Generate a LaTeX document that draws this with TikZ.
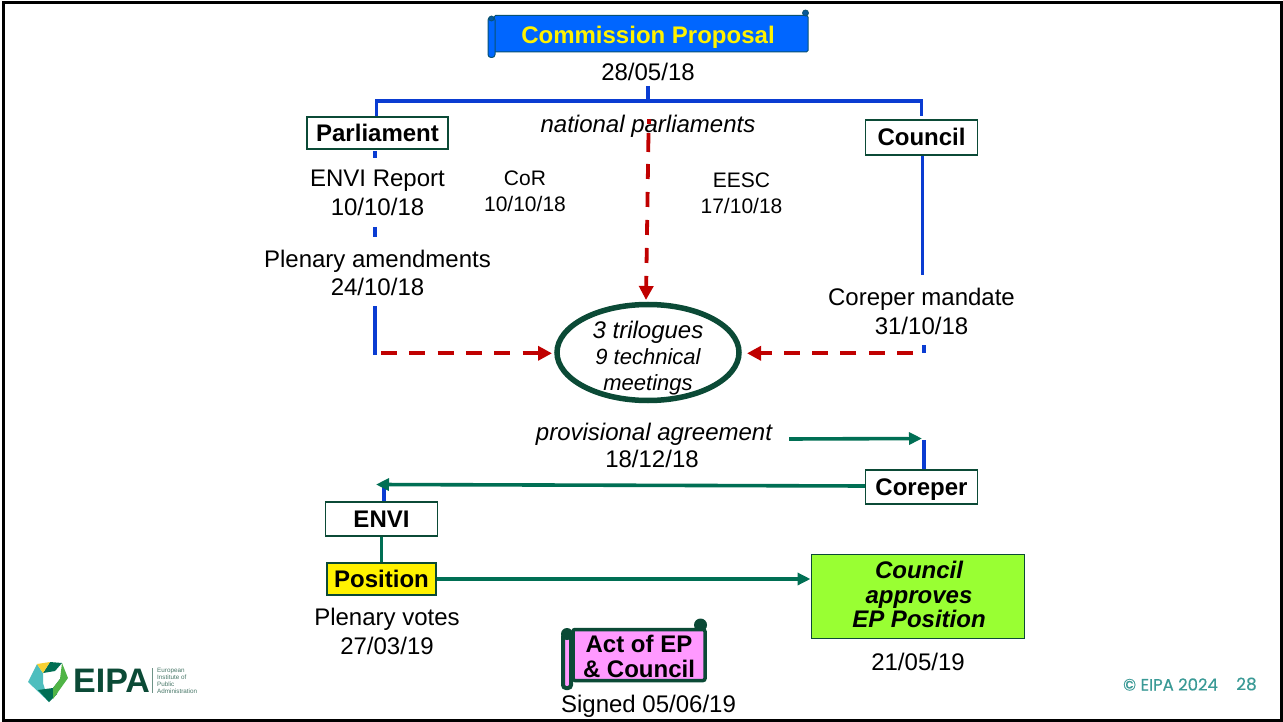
\documentclass[tikz,border=0pt]{standalone}
\usepackage{fontspec}
\setmainfont{Liberation Sans}
\newfontfamily\eipafont[FakeBold=0.35]{Poppins}
\usetikzlibrary{arrows.meta}
\definecolor{cBlue}{HTML}{0A3CD2}
\definecolor{cRed}{HTML}{C00000}
\definecolor{cGreen}{HTML}{006F54}
\definecolor{cDark}{HTML}{0B4A36}
\definecolor{cScroll}{HTML}{0066FF}
\definecolor{cTeal}{HTML}{3A9A96}
\definecolor{cPink}{HTML}{FF99FF}
\definecolor{cLime}{HTML}{99FF33}
\definecolor{cLogoA}{HTML}{4EBEBE}
\definecolor{cLogoB}{HTML}{F8D032}
\definecolor{cLogoC}{HTML}{50B446}
\newcommand{\fsz}[1]{\fontsize{#1}{#1}\selectfont}
\tikzset{
  x=1pt,y=-1pt,
  label24/.style={align=center,inner sep=0pt,font=\fsz{24},text=black},
  label21/.style={align=center,inner sep=0pt,font=\fsz{21},text=black},
  labelbox/.style={draw=cDark,line width=1.3pt,fill=white,inner sep=0pt,text height=17pt,text depth=0pt,font=\fsz{24}\bfseries,text=black},
  blueline/.style={draw=cBlue,line width=3.8pt},
  reddash/.style={draw=cRed,line width=3.8pt,dash pattern=on 16pt off 12.3pt,-{Triangle[length=14pt,width=14pt]}},
  greenarrow/.style={draw=cGreen,line width=3.6pt,-{Triangle[length=13pt,width=12pt]}},
  greenline/.style={draw=cGreen,line width=3.6pt},
}
\begin{document}
\begin{tikzpicture}
\useasboundingbox (0,0) rectangle (1283,722);
\fill[white] (0,0) rectangle (1283,722);
\draw[black,line width=3pt] (3.5,2.5) rectangle (1281.5,720.5);

% Named anchors for free connector ends
\coordinate (hL) at (376.5,101);
\coordinate (hM) at (648,101);
\coordinate (hR) at (921.5,101);
\coordinate (hRe) at (921.5,116);
\coordinate (mTop) at (648,86);
\coordinate (pA) at (375,151);
\coordinate (pB) at (375,158);
\coordinate (pC) at (375,227);
\coordinate (pD) at (375,237);
\coordinate (pE) at (375,306);
\coordinate (pF) at (375,355);
\coordinate (cB) at (922.5,275);
\coordinate (cC) at (924,345);
\coordinate (cD) at (924,353);
\coordinate (rT) at (648.7,119);
\coordinate (rTe) at (648.7,124);
\coordinate (rA) at (648.5,133);
\coordinate (rAe) at (646,300);
\coordinate (rL) at (381,353.3);
\coordinate (rLe) at (552,353.3);
\coordinate (rR) at (913,353.3);
\coordinate (rRe) at (747,353.3);
\coordinate (gA) at (789,439);
\coordinate (gB) at (922,438.5);
\coordinate (gC) at (924,440);
\coordinate (gE) at (376,484.5);
\coordinate (gF) at (384,485);

% Commission scroll
\fill[cScroll,draw=cDark!70!cScroll,line width=1pt,rounded corners=1.5pt] (494,15.5) -- (808,15.5) -- (808,52) -- (494,52) -- cycle;
\fill[cScroll,draw=cDark!70!cScroll,line width=1pt,rounded corners=3pt] (488,17) rectangle (495,57.5);
\fill[cDark!50!cScroll,draw=cDark!70!cScroll,line width=.8pt] (805.5,13) circle (3pt);
\fill[cDark!50!cScroll,draw=cDark!70!cScroll,line width=.8pt] (491.5,18.5) circle (2.5pt);
\node[inner sep=0pt,font=\fsz{24}\bfseries,text=yellow] (comm) at (648,37) {Commission Proposal};
\node[label24] (date1) at (648,72) {28/05/18};

% Boxes
\node[labelbox,minimum width=141pt,minimum height=32pt] (parl) at (377.5,133) {Parliament};
\node[labelbox,minimum width=112pt,minimum height=35pt] (coun) at (921.5,137.5) {Council};
\node[labelbox,minimum width=112pt,minimum height=34pt] (corep) at (921.5,487) {Coreper};
\node[labelbox,minimum width=112pt,minimum height=34pt] (envi) at (381.5,519) {ENVI};
\node[draw=cDark,line width=1.3pt,fill=yellow,inner sep=0pt,minimum width=109pt,minimum height=32pt,font=\fsz{24}\bfseries] (pos) at (381.5,579) {Position};
\node[draw=cDark,line width=1pt,fill=cLime,inner sep=0pt,minimum width=213pt,minimum height=84pt,align=center,font=\fsz{24}\bfseries\itshape] (apprbox) at (917.5,596.5) {};
\node[inner sep=0pt,align=center,font=\fsz{24}\bfseries\itshape] (appr) at (919,594.5) {Council\\[0.5pt]approves\\[0.5pt]EP Position};

% Labels
\node[label24,font=\fsz{24}\itshape] (natp) at (648,126.5) {national parliaments};
\node[label24] (envir) at (377.5,193) {ENVI Report\\[4.5pt]10/10/18};
\node[label21] (cor) at (525,191.5) {CoR\\[5pt]10/10/18};
\node[label21] (eesc) at (741.5,193) {EESC\\[5pt]17/10/18};
\node[label24] (plen) at (377.5,273) {Plenary amendments\\[4.5pt]24/10/18};
\node[label24] (cmand) at (921.5,311.5) {Coreper mandate\\[4.5pt]31/10/18};
\node[label24,font=\fsz{24}\itshape] (prov) at (654,434) {provisional agreement};
\node[label24] (date2) at (652,459) {18/12/18};
\node[label24] (pvote) at (387,631.5) {Plenary votes\\[4.5pt]27/03/19};
\node[label24] (date3) at (918,662) {21/05/19};

% Trilogue ellipse
\draw[cDark,line width=5.5pt,fill=white] (648,352.5) ellipse (91 and 48);
\node[inner sep=0pt,align=center,font=\fsz{22}\itshape] (tril) at (648,358) {{\fsz{24}3 trilogues}\\[4pt]9 technical\\[4pt]meetings};

% Act scroll
\fill[cDark] (700.5,625) circle (6.5pt);
\fill[cPink,draw=cDark,line width=3.5pt,rounded corners=2pt] (573,629.5) -- (705,629.5) -- (705,680.5) -- (573,680.5) -- cycle;
\fill[cPink,draw=cDark,line width=4pt,rounded corners=3pt] (563,634) rectangle (571,688);
\fill[cDark] (567,634) circle (6pt);
\node[inner sep=0pt,align=center,font=\fsz{24}\bfseries] (act) at (639,656.5) {Act of EP\\[0.5pt]\& Council};
\node[label24] (signed) at (648.5,706.5) {Signed 05/06/19};

% Blue connectors
\draw[blueline,line join=miter] (parl.north -| hL) -- (hL) -- (hR) -- (hRe);
\draw[blueline] (mTop) -- (hM);
\draw[blueline] (pA) -- (pB);
\draw[blueline] (pC) -- (pD);
\draw[blueline] (pE) -- (pF);
\draw[blueline] (coun.south -| cB) -- (cB);
\draw[blueline] (cC) -- (cD);
\draw[blueline] (gC) -- (corep.north -| gC);
\draw[blueline] (envi.north -| gF) -- (gF);

% Red connectors
\draw[cRed,line width=3.8pt] (rT) -- (rTe);
\draw[reddash,dash pattern=on 19pt off 12pt on 15pt off 13pt on 15pt off 13pt on 15pt off 13pt on 15pt off 13pt on 40pt off 1pt] (rA) -- (rAe);
\draw[reddash] (rL) -- (rLe);
\draw[reddash] (rR) -- (rRe);

% Green connectors
\draw[greenarrow] (gA) -- (gB);
\draw[greenarrow] (corep.west) ++(0,-1) -- (gE);
\draw[greenline] (envi.south) -- (pos.north);
\draw[greenarrow] (pos.east) -- (apprbox.west |- pos.east);

% EIPA logo
\fill[cLogoA] (37,664) -- (28,682) -- (49,702) -- (43,683) -- (43,673) -- cycle;
\fill[cGreen] (38,690) -- (53,688) -- (60,679) -- (57,694) -- (49,702) -- cycle;
\fill[cLogoC] (62,663) -- (68,678) -- (53,699) -- (53,688) -- (60,679) -- cycle;
\fill[cGreen] (50,662) -- (62,663) -- (55,671) -- (43,673) -- cycle;
\fill[cLogoB] (37,664) -- (50,662) -- (43,673) -- cycle;
\node[inner sep=0pt,anchor=west,font=\fsz{34}\bfseries,text=cDark] (eipa) at (73,680.5) {EIPA};
\node[inner sep=0pt,anchor=west,align=left,font=\fontsize{6.3}{7}\selectfont,text=cDark!75] (eipas) at (157,681) {European\\Institute of\\Public\\Administration};
\coordinate (barT) at (152.5,668);
\coordinate (barB) at (152.5,693);
\draw[cDark!60,line width=.7pt] (barT) -- (barB);

% Footer
\node[inner sep=0pt,font=\eipafont\fsz{16.5},text=cTeal] (copy) at (1170.5,684.5) {© EIPA 2024};
\node[inner sep=0pt,font=\eipafont\fsz{17},text=cTeal] (page) at (1246.5,684) {28};
\end{tikzpicture}
\end{document}
